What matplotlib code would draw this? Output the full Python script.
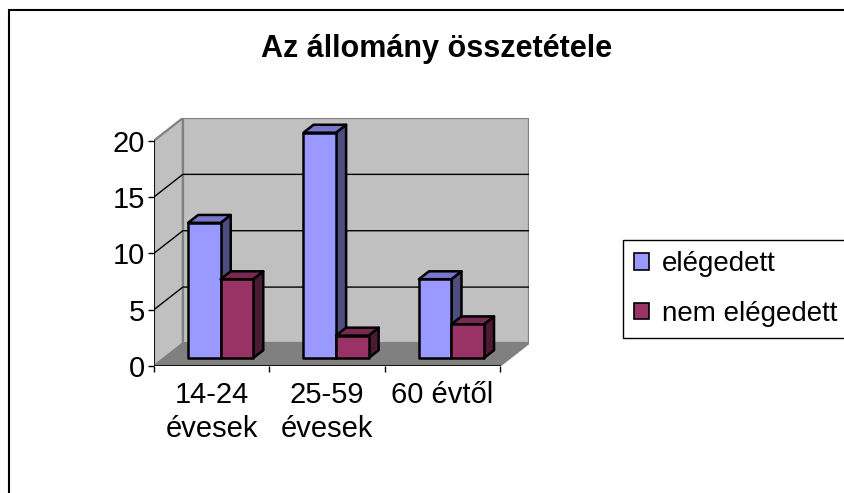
import numpy as np
import matplotlib
matplotlib.use("Agg")
import matplotlib.pyplot as plt
from matplotlib.patches import Polygon, Patch, Rectangle

plt.rcParams["font.family"] = ["Liberation Sans", "DejaVu Sans"]

title = "Az állomány összetétele"
categories = ["14-24\névesek", "25-59\névesek", "60 évtől"]
series_names = ["elégedett", "nem elégedett"]
elegedett = [12, 20, 7]
nem_elegedett = [7, 2, 3]
y_ticks = [0, 5, 10, 15, 20]

FONTSIZE = 21
DX, DY = 0.25, 2.0          # depth of the 3d box, in data units
F1, F2 = 0.35, 0.70         # bar front/back as fraction of the depth
W = 0.282                   # bar width (category units)
YMAX = 20

front = {"elégedett": "#9999FF", "nem elégedett": "#993366"}
top = {"elégedett": "#7777CC", "nem elégedett": "#7A2952"}
side = {"elégedett": "#4D4D80", "nem elégedett": "#4D1A33"}

W_PX, H_PX = 845, 493
fig = plt.figure(figsize=(W_PX / 100, H_PX / 100), dpi=100)

# outer chart frame (runs off the right and bottom of the picture)
fig.patches.append(Rectangle((9 / W_PX, -0.05), 1.1, 1 - 10 / H_PX + 0.05,
                             transform=fig.transFigure, fill=False,
                             edgecolor="black", linewidth=1.5))

ax = fig.add_axes([154 / W_PX, (H_PX - 366) / H_PX,
                   (529 - 154) / W_PX, (366 - 118) / H_PX])
n = len(categories)
ax.set_xlim(0, n + DX)
ax.set_ylim(0, YMAX + DY)
for s in ax.spines.values():
    s.set_visible(False)
ax.patch.set_visible(False)

wall_kw = dict(facecolor="#C0C0C0", edgecolor="#808080", linewidth=1.6, zorder=1)
ax.add_patch(Polygon([(DX, DY), (n + DX, DY), (n + DX, YMAX + DY), (DX, YMAX + DY)], **wall_kw))
ax.add_patch(Polygon([(0, 0), (DX, DY), (DX, YMAX + DY), (0, YMAX)], **wall_kw))
ax.add_patch(Polygon([(0, 0), (n, 0), (n + DX, DY), (DX, DY)],
                     facecolor="#808080", edgecolor="#808080", linewidth=1, zorder=1))

for v in y_ticks[1:-1]:
    ax.plot([0, DX, n + DX], [v, v + DY, v + DY], color="black", linewidth=1, zorder=2)

ax.plot([0, 0], [0, YMAX], color="black", linewidth=1.2, zorder=2)
ax.plot([0, n], [0, 0], color="black", linewidth=1.2, zorder=2)


def bar3d(x0, h, name, z):
    ox, oy = F1 * DX, F1 * DY
    bx, by = (F2 - F1) * DX, (F2 - F1) * DY
    x1 = x0 + W
    kw = dict(edgecolor="black", linewidth=1.8, joinstyle="round", zorder=z)
    ax.add_patch(Polygon([(x1 + ox, oy), (x1 + ox + bx, oy + by),
                          (x1 + ox + bx, h + oy + by), (x1 + ox, h + oy)],
                         facecolor=side[name], **kw))
    ax.add_patch(Polygon([(x0 + ox, h + oy), (x1 + ox, h + oy),
                          (x1 + ox + bx, h + oy + by), (x0 + ox + bx, h + oy + by)],
                         facecolor=top[name], **kw))
    ax.add_patch(Rectangle((x0 + ox, oy), W, h, facecolor=front[name], **kw))


z = 3
for i in range(n):
    c = i + 0.5 - 0.01
    bar3d(c - W, elegedett[i], series_names[0], z)
    z += 1
    bar3d(c, nem_elegedett[i], series_names[1], z)
    z += 1

ax.set_yticks(y_ticks)
ax.set_yticklabels([str(v) for v in y_ticks], fontsize=FONTSIZE)
ax.tick_params(axis="y", length=6 / 1.389, width=1, pad=2)

ax.set_xticks(range(n + 1))
ax.set_xticklabels([""] * (n + 1))
ax.tick_params(axis="x", which="major", length=6 / 1.389, width=1)
ax.set_xticks([i + 0.5 for i in range(n)], minor=True)
ax.set_xticklabels(categories, minor=True, fontsize=FONTSIZE, linespacing=1.25)
ax.tick_params(axis="x", which="minor", length=0, pad=11)

fig.text(437 / W_PX, 1 - 57 / H_PX, title, ha="center", va="baseline",
         fontsize=22, fontweight="bold")

handles = [Patch(facecolor=front[s], edgecolor="black", linewidth=1.2) for s in series_names]
leg = fig.legend(handles, series_names, loc="upper left",
                 bbox_to_anchor=(623 / W_PX, 1 - 240 / H_PX),
                 fontsize=20, frameon=True, fancybox=False,
                 edgecolor="black", framealpha=1, handlelength=0.55,
                 handleheight=0.55, handletextpad=0.45, labelspacing=0.85,
                 borderpad=0.4, borderaxespad=0)
leg.get_frame().set_linewidth(1)

fig.savefig("out.png", dpi=100)
